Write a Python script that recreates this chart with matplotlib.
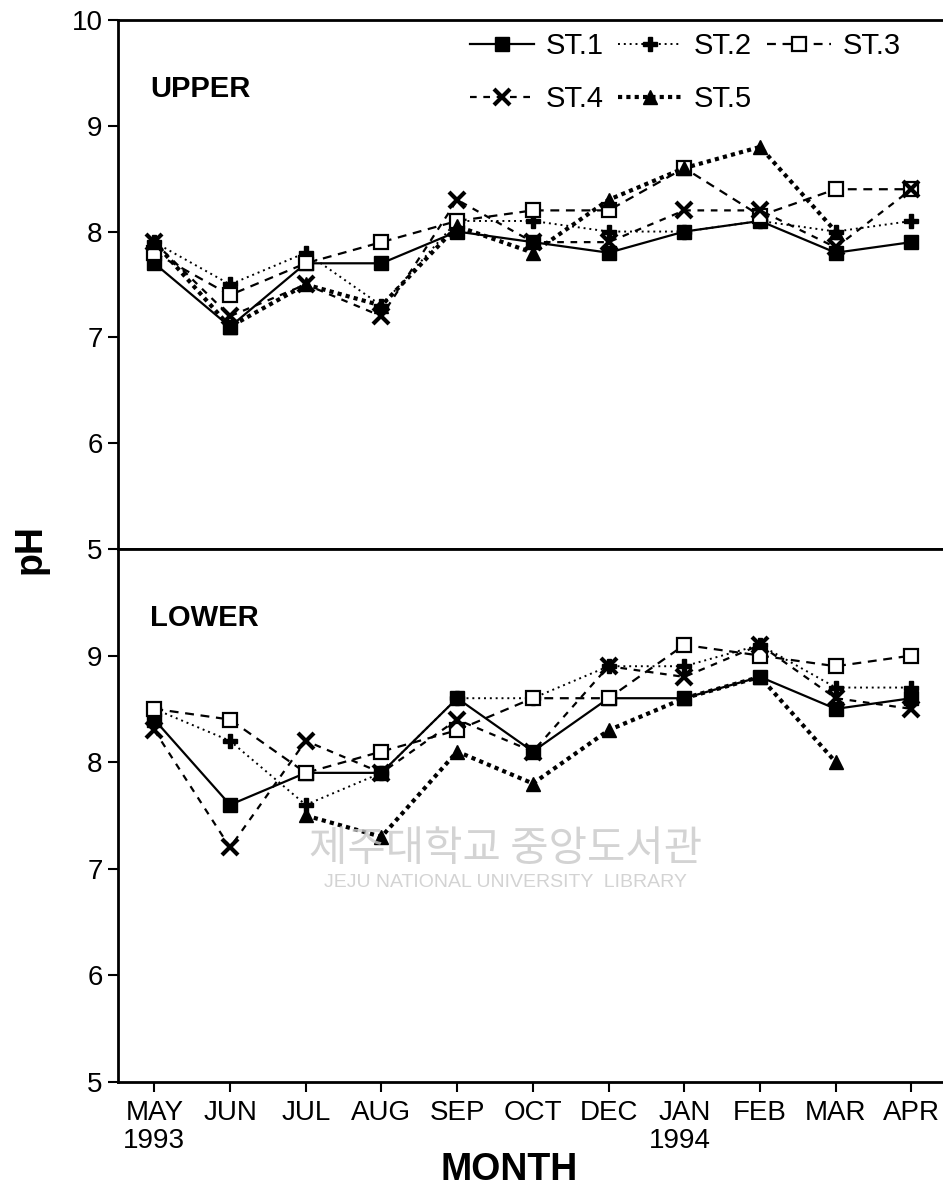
import numpy as np
import matplotlib
matplotlib.use("Agg")
import matplotlib.pyplot as plt
from matplotlib.lines import Line2D

plt.rcParams['font.family'] = ['Liberation Sans', 'DejaVu Sans']

months = ['MAY', 'JUN', 'JUL', 'AUG', 'SEP', 'OCT', 'DEC', 'JAN', 'FEB', 'MAR', 'APR']
stations = ['ST.1', 'ST.2', 'ST.3', 'ST.4', 'ST.5']
nan = np.nan

# upper layer pH
upper_st1 = [7.7, 7.1, 7.7, 7.7, 8.0, 7.9, 7.8, 8.0, 8.1, 7.8, 7.9]
upper_st2 = [7.9, 7.5, 7.8, 7.3, 8.1, 8.1, 8.0, 8.0, 8.1, 8.0, 8.1]
upper_st3 = [7.8, 7.4, 7.7, 7.9, 8.1, 8.2, 8.2, 8.6, 8.15, 8.4, 8.4]
upper_st4 = [7.9, 7.2, 7.5, 7.2, 8.3, 7.9, 7.9, 8.2, 8.2, 7.85, 8.4]
upper_st5 = [7.9, 7.1, 7.5, 7.3, 8.05, 7.8, 8.3, 8.6, 8.8, 8.0, nan]

# lower layer pH
lower_st1 = [8.4, 7.6, 7.9, 7.9, 8.6, 8.1, 8.6, 8.6, 8.8, 8.5, 8.6]
lower_st2 = [8.5, 8.2, 7.6, 7.9, 8.6, 8.6, 8.9, 8.9, 9.1, 8.7, 8.7]
lower_st3 = [8.5, 8.4, 7.9, 8.1, 8.3, 8.6, 8.6, 9.1, 9.0, 8.9, 9.0]
lower_st4 = [8.3, 7.2, 8.2, 7.9, 8.4, 8.1, 8.9, 8.8, 9.1, 8.6, 8.5]
lower_st5 = [nan, nan, 7.5, 7.3, 8.1, 7.8, 8.3, 8.6, 8.8, 8.0, nan]

styles = {
    'ST.1': dict(linestyle='-', linewidth=1.6, marker='s', markersize=10.5,
                 markerfacecolor='black'),
    'ST.2': dict(linestyle=(0, (1, 2)), linewidth=1.4, marker='P', markersize=10,
                 markerfacecolor='black'),
    'ST.3': dict(linestyle=(0, (4, 3)), linewidth=1.6, marker='s', markersize=10,
                 markerfacecolor='white', markeredgewidth=1.6),
    'ST.4': dict(linestyle=(0, (3, 3)), linewidth=1.6, marker='x', markersize=11,
                 markeredgewidth=3),
    'ST.5': dict(linestyle=(0, (1, 1)), linewidth=3.0, marker='^', markersize=10,
                 markerfacecolor='black'),
}

fig = plt.figure(figsize=(9.43, 12.02), dpi=100)
ax_up = fig.add_axes([0.1251, 0.5433, 0.88, 0.4401])
ax_lo = fig.add_axes([0.1251, 0.0998, 0.88, 0.4435])

x = np.arange(len(months))


def draw(ax, series, title):
    for name, vals in zip(stations, series):
        ax.plot(x, vals, color='black', markeredgecolor='black', **styles[name])
    ax.set_xlim(-0.48, 10.48)
    ax.set_ylim(5, 10)
    ax.set_yticks([5, 6, 7, 8, 9, 10])
    for s in ['left', 'top', 'bottom']:
        ax.spines[s].set_linewidth(2)
    ax.spines['right'].set_visible(False)
    ax.tick_params(axis='y', direction='out', length=7, width=1.5,
                   labelsize=20, pad=4)
    ax.tick_params(axis='x', direction='out', length=7, width=1.5,
                   labelsize=20, pad=6)
    ax.text(0.039, 0.87, title, transform=ax.transAxes, fontsize=21,
            fontweight='bold', va='center')


draw(ax_up, [upper_st1, upper_st2, upper_st3, upper_st4, upper_st5], 'UPPER')
draw(ax_lo, [lower_st1, lower_st2, lower_st3, lower_st4, lower_st5], 'LOWER')

ax_up.set_xticks([])
ax_lo.set_xticks(x)
ax_lo.set_xticklabels(months)
ax_lo.set_yticks([5, 6, 7, 8, 9])

# legend in row order: ST.1 ST.2 ST.3 / ST.4 ST.5
handles = {name: Line2D([], [], color='black', markeredgecolor='black',
                        **styles[name]) for name in stations}
order = ['ST.1', 'ST.4', 'ST.2', 'ST.5', 'ST.3']
ax_up.legend([handles[n] for n in order], order, ncol=3, frameon=False,
             loc='upper right', bbox_to_anchor=(0.958, 1.0), fontsize=21,
             handlelength=2.2, handletextpad=0.4, columnspacing=0.5,
             labelspacing=0.85, borderaxespad=0.0, borderpad=0.42)

fig.text(0.13, 0.051, '1993', fontsize=20, ha='left', va='center')
fig.text(0.721, 0.051, '1994', fontsize=20, ha='center', va='center')
fig.text(0.54, 0.027, 'MONTH', fontsize=27, fontweight='bold',
         ha='center', va='center')
fig.text(0.032, 0.543, 'pH', fontsize=27, fontweight='bold', rotation=90,
         ha='center', va='center')

# faint library watermark
fig.text(0.536, 0.293, '제주대학교 중앙도서관', fontsize=30, color='#c8c8c8',
         family=['Noto Sans CJK KR', 'DejaVu Sans'], ha='center', va='center',
         alpha=0.8, zorder=0)
fig.text(0.536, 0.266, 'JEJU NATIONAL UNIVERSITY  LIBRARY', fontsize=14,
         color='#c8c8c8', ha='center', va='center', alpha=0.8, zorder=0)

fig.savefig('out.png', dpi=100)
